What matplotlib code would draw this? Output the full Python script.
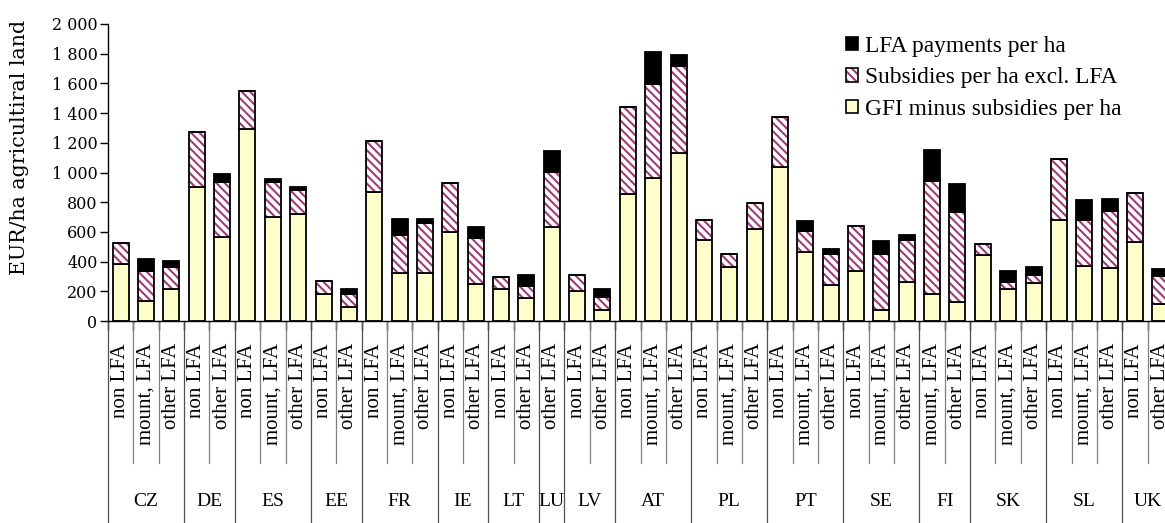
import matplotlib
matplotlib.use("Agg")
import matplotlib.pyplot as plt
from matplotlib.patches import Patch
from matplotlib.lines import Line2D
from matplotlib.transforms import blended_transform_factory

plt.rcParams["font.family"] = ["Liberation Serif", "DejaVu Serif"]
plt.rcParams["hatch.linewidth"] = 1.5

# data (EUR per ha agricultural land)
countries = ["CZ", "DE", "ES", "EE", "FR", "IE", "LT", "LU", "LV",
             "AT", "PL", "PT", "SE", "FI", "SK", "SL", "UK"]
areas = [
    ["non LFA", "mount, LFA", "other LFA"],
    ["non LFA", "other LFA"],
    ["non LFA", "mount, LFA", "other LFA"],
    ["non LFA", "other LFA"],
    ["non LFA", "mount, LFA", "other LFA"],
    ["non LFA", "other LFA"],
    ["non LFA", "other LFA"],
    ["other LFA"],
    ["non LFA", "other LFA"],
    ["non LFA", "mount, LFA", "other LFA"],
    ["non LFA", "mount, LFA", "other LFA"],
    ["non LFA", "mount, LFA", "other LFA"],
    ["non LFA", "mount, LFA", "other LFA"],
    ["mount, LFA", "other LFA"],
    ["non LFA", "mount, LFA", "other LFA"],
    ["non LFA", "mount, LFA", "other LFA"],
    ["non LFA", "other LFA"],
]
gfi_minus_subs = [384, 137, 218, 905, 568, 1291, 702, 718, 184, 96,
                  869, 321, 321, 597, 247, 213, 153, 631, 204, 74,
                  853, 965, 1129, 545, 362, 617, 1035, 463, 242,
                  339, 74, 261, 180, 126, 444, 213, 258,
                  680, 370, 355, 534, 114]
subsidies = [143, 202, 148, 365, 366, 260, 236, 164, 87, 84,
             343, 258, 341, 330, 310, 85, 85, 374, 106, 90,
             590, 631, 586, 135, 89, 180, 341, 143, 209,
             301, 375, 284, 765, 608, 77, 48, 52,
             413, 310, 386, 326, 189]
lfa_payments = [0, 78, 38, 0, 54, 0, 18, 23, 0, 33,
                0, 106, 23, 0, 78, 0, 69, 142, 0, 49,
                0, 213, 74, 0, 0, 0, 0, 67, 34,
                0, 90, 32, 207, 189, 0, 78, 52,
                0, 135, 83, 0, 49]

# colours
c_gfi = "#ffffcc"
c_stripe = "#a03c74"
hatch = "\\\\\\\\"

W, H = 1165, 523
fig = plt.figure(figsize=(W / 100, H / 100), dpi=100)
# axes goes a bit past the right edge, like the original (last bar clipped)
ax = fig.add_axes([108 / W, (H - 321) / H, (1173 - 108) / W, (321 - 24) / H])

x = list(range(len(gfi_minus_subs)))
bw = 0.63
bottom2 = gfi_minus_subs
bottom3 = [a + b for a, b in zip(gfi_minus_subs, subsidies)]

ax.bar(x, gfi_minus_subs, bw, color=c_gfi, edgecolor="black", linewidth=1.3, zorder=2)
# hatch drawn first in plum, then black outline on top
ax.bar(x, subsidies, bw, bottom=bottom2, color="white", edgecolor=c_stripe,
       hatch=hatch, linewidth=0, zorder=2)
ax.bar(x, subsidies, bw, bottom=bottom2, fill=False, edgecolor="black",
       linewidth=1.3, zorder=3)
ax.bar(x, lfa_payments, bw, bottom=bottom3, color="black", edgecolor="black",
       linewidth=1.3, zorder=2)

ax.set_xlim(-0.5, len(x) - 0.5)
ax.set_ylim(0, 2000)
ax.set_yticks(range(0, 2001, 200))
ax.set_yticklabels([f"{v:,}".replace(",", " ") for v in range(0, 2001, 200)],
                   family="DejaVu Serif", fontsize=11.5)
ax.tick_params(axis="y", length=5.5, width=1, pad=2, direction="out")
ax.set_xticks([i - 0.5 for i in range(len(x) + 1)])
ax.set_xticklabels([])
ax.tick_params(axis="x", length=6.5, width=1, direction="out")
for s in ["top", "right"]:
    ax.spines[s].set_visible(False)
ax.spines["left"].set_linewidth(1)
ax.spines["bottom"].set_linewidth(1)

fig.text(20 / W, 1 - 147 / H, "EUR/ha agricultiral land", rotation=90,
         ha="center", va="center", family="DejaVu Serif", fontsize=14.8)

# two-level category axis
tr = blended_transform_factory(ax.transData, fig.transFigure)
y_axis = 1 - 321 / H
y_inner = 1 - 463 / H
pos = 0
for country, sub in zip(countries, areas):
    for j, name in enumerate(sub):
        ax.text(pos + j, 1 - 343 / H, name, rotation=90, ha="center", va="top",
                fontsize=15, transform=tr, clip_on=False)
        if j > 0:
            ax.add_line(Line2D([pos + j - 0.5] * 2, [y_axis, y_inner], transform=tr,
                               color="#808080", lw=0.9, clip_on=False))
    ax.text(pos + (len(sub) - 1) / 2, 1 - 501 / H, country, ha="center", va="center",
            fontsize=14, transform=tr, clip_on=False)
    ax.add_line(Line2D([pos - 0.5] * 2, [y_axis, 0], transform=tr,
                       color="#505050", lw=0.9, clip_on=False))
    pos += len(sub)
ax.add_line(Line2D([pos - 0.5] * 2, [y_axis, 0], transform=tr,
                   color="#505050", lw=0.9, clip_on=False))

# legend
h_lfa = Patch(facecolor="black", edgecolor="black", linewidth=1.2)
h_sub = (Patch(facecolor="white", edgecolor=c_stripe, hatch=hatch, linewidth=0),
         Patch(fill=False, edgecolor="black", linewidth=1.2))
h_gfi = Patch(facecolor=c_gfi, edgecolor="black", linewidth=1.2)
fig.legend([h_lfa, h_sub, h_gfi],
           ["LFA payments per ha", "Subsidies per ha excl. LFA", "GFI minus subsidies per ha"],
           loc="upper left", bbox_to_anchor=(846 / W, 1 - 36 / H), frameon=False,
           fontsize=16.8, handlelength=0.5, handleheight=0.5, handletextpad=0.3,
           labelspacing=0.44, borderpad=0, borderaxespad=0)

fig.savefig("out.png", dpi=100)
